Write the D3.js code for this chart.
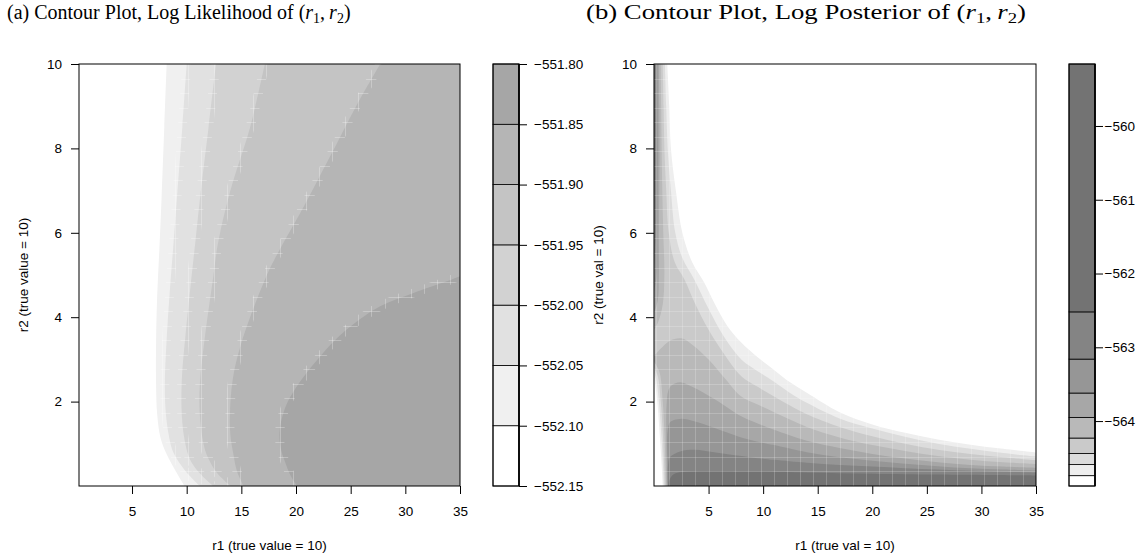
<!DOCTYPE html>
<html>
<head>
<meta charset="utf-8">
<script src="https://cdn.jsdelivr.net/npm/d3@7"></script>
<style>
  html, body { margin: 0; padding: 0; background: #fff; }
  svg text { font-family: "Liberation Sans", Arial, Helvetica, sans-serif; fill: #000; }
  svg text.title { font-family: "Liberation Serif", "Times New Roman", serif; }
</style>
</head>
<body>
<svg id="chart" width="1147" height="558"></svg>
<script>
// ---------- shared axis values ----------
const r1Ticks = [5, 10, 15, 20, 25, 30, 35];
const r2Ticks = [2, 4, 6, 8, 10];

// ---------- (a) log likelihood ----------
const likLevels = [-552.15, -552.10, -552.05, -552.00, -551.95, -551.90, -551.85, -551.80];
const likFills = ["#ffffff", "#f0f0f0", "#e1e1e1", "#d2d2d2", "#c4c4c4", "#b5b5b5", "#a6a6a6"];
// contour lines [r1, r2]; the likelihood is above the level to the right of each line
const lik552_10 = [[8.17,10],[7.95,8.5],[7.7,6.8],[7.5,5.6],[7.3,4.5],[7.2,3.4],[7.2,2.4],[7.3,1.7],[7.6,1.15],[8.17,0.75],[9.0,0.35],[9.8,0]];
const lik552_05 = [[10.0,10],[9.6,8.5],[9.1,6.8],[8.75,5.6],[8.45,4.6],[8.15,3.4],[8.0,2.4],[8.1,1.7],[8.4,1.15],[8.8,0.78],[9.9,0.35],[11.2,0]];
const lik552_00 = [[12.68,10],[12.0,8.5],[11.3,7.0],[10.8,5.8],[10.4,4.85],[9.9,3.6],[9.55,2.5],[9.55,1.7],[9.8,1.1],[10.3,0.63],[11.2,0.3],[12.4,0]];
const lik551_95 = [[17.15,10],[15.8,8.5],[14.0,7.0],[12.9,5.8],[12.4,4.9],[11.6,3.4],[11.2,2.4],[11.2,1.7],[11.5,1.05],[11.9,0.7],[12.8,0.3],[14.0,0]];
const lik551_90 = [[27.7,10],[25.5,9.0],[23.1,7.8],[20.7,6.62],[18.5,5.6],[17.15,4.89],[14.9,3.3],[14.2,2.5],[13.96,1.73],[14.0,1.2],[14.26,0.77],[14.6,0.35],[15.2,0]];
const lik551_85 = [[35,4.97],[33.8,4.85],[30.7,4.57],[27.7,4.26],[24.6,3.7],[22.2,3.07],[20.05,2.35],[19.0,1.85],[18.5,1.3],[18.6,0.9],[19.1,0.5],[19.6,0.2],[20.1,0]];
const likContours = [lik552_10, lik552_05, lik552_00, lik551_95, lik551_90, lik551_85];

// ---------- (b) log posterior ----------
const postLevels = [-564.88, -564.74, -564.59, -564.44, -564.23, -563.95, -563.62, -563.16, -562.52, -559.16];
const postFills = ["#ffffff", "#eeeeee", "#dcdcdc", "#cacaca", "#b9b9b9", "#a7a7a7", "#969696", "#848484", "#737373"];
const postKeyTicks = [-560, -561, -562, -563, -564];

// levels 1-3: outer edge (top edge -> right edge) and inner edge near r1 = 0 (bottom -> left edge)
const postOuter1 = [[1.22,10],[1.4,9],[1.55,8],[2.0,7],[2.6,6],[3.5,5.3],[4.6,4.82],[5.6,4.3],[6.7,3.8],[8,3.4],[9.5,3.05],[11,2.75],[12.5,2.45],[14,2.21],[17,1.75],[20,1.46],[23,1.26],[26,1.10],[29,0.98],[32,0.88],[35,0.79]];
const postOuter2 = [[1.0,10],[1.12,9],[1.25,8],[1.55,7],[1.95,6],[2.6,5.4],[3.7,4.89],[5,4.2],[6.5,3.5],[8,3.0],[9.5,2.72],[11,2.47],[12.5,2.2],[14,1.97],[17,1.6],[20,1.36],[23,1.17],[26,1.0],[29,0.88],[32,0.78],[35,0.70]];
const postOuter3 = [[0.8,10],[0.88,9],[0.95,8],[1.12,7],[1.35,6],[1.9,5.3],[2.8,4.89],[3.8,4.3],[5,3.7],[6.5,3.1],[8,2.6],[9.5,2.35],[11,2.12],[12.5,1.9],[14,1.70],[17,1.40],[20,1.18],[23,1.0],[26,0.86],[29,0.76],[32,0.68],[35,0.61]];
const postInner1 = [[0.8,0],[0.7,0.5],[0.5,1.3],[0.3,2.0],[0.12,2.4],[0,2.6]];
const postInner2 = [[0.9,0],[0.82,0.5],[0.65,1.3],[0.45,2.0],[0.22,2.5],[0,2.7]];
const postInner3 = [[1.0,0],[0.93,0.5],[0.8,1.3],[0.62,2.0],[0.35,2.6],[0,2.82]];

// levels 4-8: thin strip along the left edge (top edge -> left edge) and floor region (bottom -> right edge)
const postStrip4 = [[0.62,10],[0.66,9],[0.7,8],[0.76,7],[0.85,6],[0.95,5],[0.8,4.3],[0.4,3.9],[0,3.7]];
const postStrip5 = [[0.45,10],[0.48,9],[0.5,8],[0.48,7],[0.45,6],[0.45,5],[0.35,4.4],[0,4.1]];
const postStrip6 = [[0.32,10],[0.34,8],[0.3,6],[0.25,5],[0,4.6]];
const postStrip7 = [[0.2,10],[0.2,8],[0.17,6],[0,5.2]];
const postStrip8 = [[0.1,10],[0.1,8],[0,6.5]];
const postInner4 = [[1.1,0],[1.05,0.5],[0.95,1.3],[0.8,2.0],[0.5,2.7],[0,2.95]];
const postFloor4 = [[0,3.07],[0.6,3.25],[1.5,3.45],[2.5,3.5],[3.5,3.35],[5,3.0],[6.5,2.55],[8,2.12],[9.5,1.93],[11,1.75],[12.5,1.57],[14,1.40],[17,1.15],[20,0.97],[23,0.83],[26,0.71],[29,0.62],[32,0.56],[35,0.52]];
const postFloor5 = [[1.18,0],[1.15,0.6],[1.12,1.3],[1.15,1.9],[1.3,2.25],[1.6,2.38],[2.4,2.46],[3.5,2.35],[5.6,2.05],[8,1.65],[9.5,1.48],[11,1.33],[14,1.07],[17,0.9],[20,0.76],[23,0.65],[26,0.56],[29,0.5],[32,0.46],[35,0.43]];
const postFloor6 = [[1.24,0],[1.22,0.6],[1.25,1.3],[1.5,1.52],[2.4,1.59],[3.75,1.53],[5.5,1.38],[8,1.15],[9.5,1.05],[11,0.97],[14,0.80],[17,0.68],[20,0.60],[23,0.53],[26,0.47],[29,0.42],[32,0.39],[35,0.37]];
const postFloor7 = [[1.29,0],[1.29,0.5],[1.45,0.68],[2.4,0.82],[3.75,0.86],[5.5,0.8],[8,0.71],[9.5,0.66],[11,0.62],[14,0.55],[17,0.50],[20,0.46],[23,0.42],[26,0.39],[29,0.36],[32,0.34],[35,0.32]];
const postFloor8 = [[1.33,0],[1.38,0.12],[1.8,0.28],[2.6,0.33],[3.75,0.35],[8,0.35],[9.5,0.35],[14,0.32],[20,0.29],[26,0.27],[35,0.25]];

// evaluation meshes of the two surfaces (faint seams between filled cells)
const likMeshR1Start = 0.5, postMeshR1Start = 0.2, meshR1Step = 1.2;
const meshR2Start = 0.01, meshR2Step = 0.3445, meshCount = 30;

// ---------- helpers ----------
const svg = d3.select("#chart");
const OUT_LO = -1, OUT_R1 = 40, OUT_R2 = 11;

function smoothLine(sx, sy) {
  return d3.line().x(d => sx(d[0])).y(d => sy(d[1])).curve(d3.curveCatmullRom.alpha(0.5));
}

function regionPath(sx, sy, pieces) {
  const smooth = smoothLine(sx, sy);
  let d = "";
  pieces.forEach(p => {
    if (p.smooth) {
      const s = smooth(p.pts);
      d += d ? "L" + s.slice(1) : s;
    } else {
      p.pts.forEach(q => { d += (d ? "L" : "M") + sx(q[0]) + "," + sy(q[1]); });
    }
  });
  return d + "Z";
}

function drawMesh(parent, sx, sy, r1Start, opacity) {
  const meshR1 = d3.range(meshCount).map(i => r1Start + i * meshR1Step).filter(v => v < sx.domain()[1]);
  const meshR2 = d3.range(meshCount).map(i => meshR2Start + i * meshR2Step);
  const [x0, x1] = sx.range(), [y1, y0] = sy.range();
  const seams = parent.append("g").attr("stroke", "#fff").attr("stroke-opacity", opacity).attr("stroke-width", 1);
  seams.selectAll("line.v").data(meshR1).join("line").attr("class", "v")
    .attr("x1", d => Math.round(sx(d)) + 0.5).attr("x2", d => Math.round(sx(d)) + 0.5).attr("y1", y0).attr("y2", y1);
  seams.selectAll("line.h").data(meshR2).join("line").attr("class", "h")
    .attr("y1", d => Math.round(sy(d)) + 0.5).attr("y2", d => Math.round(sy(d)) + 0.5).attr("x1", x0).attr("x2", x1);
  return seams;
}

function drawAxes(g, x, y, yPad) {
  const xa = g.append("g").attr("transform", `translate(0,${y.range()[0]})`)
    .call(d3.axisBottom(x).tickValues(r1Ticks).tickSize(8).tickPadding(12.5).tickFormat(d3.format("d")));
  const ya = g.append("g").attr("transform", `translate(${x.range()[0]},0)`)
    .call(d3.axisLeft(y).tickValues(r2Ticks).tickSize(8).tickPadding(yPad).tickFormat(d3.format("d")));
  [xa, ya].forEach(a => {
    a.select(".domain").remove();
    a.selectAll("line").attr("stroke", "#000").attr("stroke-width", 1);
    a.selectAll("text").attr("font-size", 13.5).attr("font-family", null);
  });
}

function drawBox(g, x, y) {
  g.append("rect")
    .attr("x", x.range()[0]).attr("y", y.range()[1])
    .attr("width", x.range()[1] - x.range()[0]).attr("height", y.range()[0] - y.range()[1])
    .attr("fill", "none").attr("stroke", "#000").attr("stroke-width", 1);
}

function drawKey(g, x0, x1, ky, levels, fills, ticks, fmt, pad) {
  g.selectAll("rect.band").data(fills).join("rect").attr("class", "band")
    .attr("x", x0).attr("width", x1 - x0)
    .attr("y", (d, i) => ky(levels[i + 1]))
    .attr("height", (d, i) => ky(levels[i]) - ky(levels[i + 1]))
    .attr("fill", d => d).attr("stroke", "#000").attr("stroke-width", 0.8);
  const ax = g.append("g").attr("transform", `translate(${x1},0)`)
    .call(d3.axisRight(ky).tickValues(ticks).tickSize(8).tickPadding(pad).tickFormat(fmt));
  ax.select(".domain").remove();
  ax.selectAll("line").attr("stroke", "#000");
  ax.selectAll("text").attr("font-size", 13.5).attr("font-family", null);
  g.append("rect").attr("x", x0).attr("y", ky.range()[1]).attr("width", x1 - x0)
    .attr("height", ky.range()[0] - ky.range()[1]).attr("fill", "none")
    .attr("stroke", "#000").attr("stroke-width", 1);
  g.append("line").attr("x1", x1).attr("x2", x1).attr("y1", ky.range()[1]).attr("y2", ky.range()[0])
    .attr("stroke", "#000").attr("stroke-width", 1.6);
}

function mathTitle(x, y, prefix, size, width) {
  const t = svg.append("text").attr("class", "title").attr("x", x).attr("y", y).attr("font-size", size);
  if (width) t.attr("textLength", width).attr("lengthAdjust", "spacingAndGlyphs");
  t.append("tspan").text(prefix + "(");
  t.append("tspan").attr("font-style", "italic").text("r");
  t.append("tspan").attr("font-size", "70%").attr("dy", 4).text("1");
  t.append("tspan").attr("dy", -4).text(",\u2009");
  t.append("tspan").attr("font-style", "italic").text("r");
  t.append("tspan").attr("font-size", "70%").attr("dy", 4).text("2");
  t.append("tspan").attr("dy", -4).text(")");
}

function axisTitles(cx, xTitle, yx, yTitle) {
  svg.append("text").attr("x", cx).attr("y", 545).attr("text-anchor", "middle")
    .attr("dominant-baseline", "central").attr("font-size", 13.5).text(xTitle);
  svg.append("text").attr("transform", `translate(${yx},275) rotate(-90)`).attr("text-anchor", "middle")
    .attr("dominant-baseline", "central").attr("font-size", 13.5).text(yTitle);
}

// ---------- panel (a) ----------
{
  const x = d3.scaleLinear().domain([0.15, 35]).range([79, 460]);
  const y = d3.scaleLinear().domain([0, 10]).range([486, 64]);
  const g = svg.append("g");
  g.append("clipPath").attr("id", "clipA").append("rect")
    .attr("x", 79).attr("y", 64).attr("width", 381).attr("height", 422);
  const fills = g.append("g").attr("clip-path", "url(#clipA)");
  fills.append("rect").attr("x", 79).attr("y", 64).attr("width", 381).attr("height", 422).attr("fill", likFills[0]);
  likContours.forEach((c, i) => {
    const first = c[0], last = c[c.length - 1];
    const d = regionPath(x, y, [
      { smooth: true, pts: c },
      { smooth: false, pts: [[OUT_R1, last[1] <= 0 ? OUT_LO : last[1]], [OUT_R1, first[1] >= 10 ? OUT_R2 : first[1]]] }
    ]);
    fills.append("path").attr("d", d).attr("fill", likFills[i + 1]);
  });

  // seams of the mesh show up only in cells that a contour line crosses
  const mask = g.append("mask").attr("id", "seamMaskA").attr("maskUnits", "userSpaceOnUse")
    .attr("x", 0).attr("y", 0).attr("width", 1147).attr("height", 558);
  mask.append("rect").attr("width", 1147).attr("height", 558).attr("fill", "#000");
  const line = smoothLine(x, y);
  likContours.slice(1).forEach(c => {
    mask.append("path").attr("d", line(c)).attr("fill", "none").attr("stroke", "#fff").attr("stroke-width", 9);
  });
  drawMesh(fills, x, y, likMeshR1Start, 0.28).attr("mask", "url(#seamMaskA)");

  drawAxes(g, x, y, 9);
  drawBox(g, x, y);

  const ky = d3.scaleLinear().domain([likLevels[0], likLevels[likLevels.length - 1]]).range([486, 64]);
  drawKey(svg.append("g"), 493, 519, ky, likLevels, likFills, likLevels, d3.format(".2f"), 7);

  mathTitle(7, 19, "(a) Contour Plot, Log Likelihood of ", 20, null);
  axisTitles(269.5, "r1 (true value = 10)", 23, "r2 (true value = 10)");
}

// ---------- panel (b) ----------
{
  const x = d3.scaleLinear().domain([0, 35]).range([654, 1036]);
  const y = d3.scaleLinear().domain([0, 10]).range([486, 64]);
  const g = svg.append("g");
  g.append("clipPath").attr("id", "clipB").append("rect")
    .attr("x", 654).attr("y", 64).attr("width", 382).attr("height", 422);
  const fills = g.append("g").attr("clip-path", "url(#clipB)");
  fills.append("rect").attr("x", 654).attr("y", 64).attr("width", 382).attr("height", 422).attr("fill", postFills[0]);

  const outers = [postOuter1, postOuter2, postOuter3];
  const inners = [postInner1, postInner2, postInner3];
  outers.forEach((u, i) => {
    const s = inners[i];
    const d = regionPath(x, y, [
      { smooth: true, pts: u },
      { smooth: false, pts: [[OUT_R1, u[u.length - 1][1]], [OUT_R1, OUT_LO], [s[0][0], OUT_LO]] },
      { smooth: true, pts: s },
      { smooth: false, pts: [[OUT_LO, s[s.length - 1][1]], [OUT_LO, OUT_R2], [u[0][0], OUT_R2]] }
    ]);
    fills.append("path").attr("d", d).attr("fill", postFills[i + 1]);
  });

  const strips = [postStrip4, postStrip5, postStrip6, postStrip7, postStrip8];
  const floors = [postFloor4, postFloor5, postFloor6, postFloor7, postFloor8];
  floors.forEach((f, j) => {
    const k = j + 4;
    let pieces;
    if (k === 4) {
      pieces = [
        { smooth: false, pts: [[postInner4[0][0], OUT_LO]] },
        { smooth: true, pts: postInner4 },
        { smooth: false, pts: [[OUT_LO, postInner4[postInner4.length - 1][1]], [OUT_LO, f[0][1]]] },
        { smooth: true, pts: f },
        { smooth: false, pts: [[OUT_R1, f[f.length - 1][1]], [OUT_R1, OUT_LO]] }
      ];
    } else {
      pieces = [
        { smooth: false, pts: [[f[0][0], OUT_LO]] },
        { smooth: true, pts: f },
        { smooth: false, pts: [[OUT_R1, f[f.length - 1][1]], [OUT_R1, OUT_LO]] }
      ];
    }
    fills.append("path").attr("d", regionPath(x, y, pieces)).attr("fill", postFills[k]);
    const t = strips[j];
    const ds = regionPath(x, y, [
      { smooth: false, pts: [[OUT_LO, OUT_R2], [t[0][0], OUT_R2]] },
      { smooth: true, pts: t },
      { smooth: false, pts: [[OUT_LO, t[t.length - 1][1]]] }
    ]);
    fills.append("path").attr("d", ds).attr("fill", postFills[k]);
  });

  drawMesh(fills, x, y, postMeshR1Start, 0.2);

  drawAxes(g, x, y, 9);
  drawBox(g, x, y);

  const ky = d3.scaleLinear().domain([postLevels[0], postLevels[postLevels.length - 1]]).range([486, 64]);
  drawKey(svg.append("g"), 1069, 1095, ky, postLevels, postFills, postKeyTicks, d3.format("d"), 1.5);

  mathTitle(586, 19, "(b) Contour Plot, Log Posterior of ", 21, 440);
  axisTitles(845, "r1 (true val = 10)", 598, "r2 (true val = 10)");
}
</script>
</body>
</html>
